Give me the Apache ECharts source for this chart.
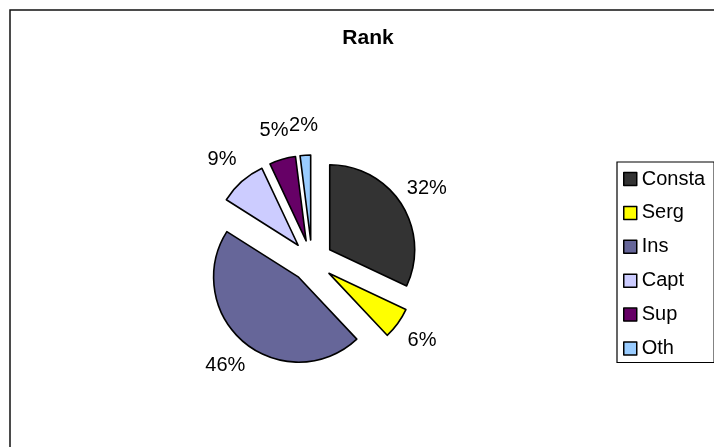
<!DOCTYPE html>
<html>
<head>
<meta charset="utf-8">
<script src="https://cdn.jsdelivr.net/npm/echarts@6/dist/echarts.min.js"></script>
<style>
html,body{margin:0;padding:0;background:#fff;}
#chart{width:714px;height:447px;}
</style>
</head>
<body>
<div id="chart"></div>
<script>
const categories = ['Consta', 'Serg', 'Ins', 'Capt', 'Sup', 'Oth'];
const values = [32, 6, 46, 9, 5, 2];
const colors = ['#333333', '#FFFF00', '#666699', '#CCCCFF', '#660066', '#99CCFF'];

const FONT = 'Liberation Sans, Arial, sans-serif';
const chart = echarts.init(document.getElementById('chart'), null, {renderer: 'canvas'});

const pieData = categories.map((name, i) => ({
  name: name,
  value: values[i],
  selected: true,
  itemStyle: {color: colors[i]}
}));
const labelData = categories.map((name, i) => ({name: name, value: values[i]}));

chart.setOption({
  animation: false,
  backgroundColor: '#ffffff',
  title: {
    text: 'Rank',
    left: 368,
    top: 28,
    padding: 0,
    textAlign: 'center',
    textStyle: {fontFamily: FONT, fontSize: 21, fontWeight: 'bold', color: '#000', lineHeight: 21}
  },
  graphic: [{
    type: 'rect',
    shape: {x: 10, y: 10, width: 800, height: 600},
    style: {fill: 'none', stroke: '#111', lineWidth: 1.5},
    silent: true,
    z: -1
  }],
  legend: {
    orient: 'vertical',
    left: 617,
    top: 162,
    padding: [7, 9, 4, 6],
    itemWidth: 13,
    itemHeight: 13,
    itemGap: 13.9,
    icon: 'rect',
    borderColor: '#000',
    borderWidth: 1.2,
    borderRadius: 0,
    selectedMode: false,
    itemStyle: {borderColor: '#000', borderWidth: 1.5},
    textStyle: {fontFamily: FONT, fontSize: 20, lineHeight: 20, color: '#000'},
    data: categories
  },
  series: [{
    type: 'pie',
    name: 'Rank',
    center: [312, 261],
    radius: [0, 85],
    startAngle: 90,
    clockwise: true,
    selectedMode: 'multiple',
    selectedOffset: 21,
    avoidLabelOverlap: false,
    label: {show: false},
    labelLine: {show: false},
    itemStyle: {borderColor: '#000', borderWidth: 1.6},
    select: {itemStyle: {borderColor: '#000', borderWidth: 1.6}},
    emphasis: {disabled: true},
    data: pieData
  }, {
    type: 'pie',
    name: 'labels',
    center: [312, 261],
    radius: [120, 146],
    startAngle: 90,
    clockwise: true,
    silent: true,
    avoidLabelOverlap: false,
    itemStyle: {color: 'rgba(0,0,0,0)', borderWidth: 0},
    label: {
      show: true,
      position: 'inside',
      formatter: '{d}%',
      fontFamily: FONT,
      fontSize: 20,
      color: '#000'
    },
    labelLine: {show: false},
    emphasis: {disabled: true},
    data: labelData
  }]
});
</script>
</body>
</html>
